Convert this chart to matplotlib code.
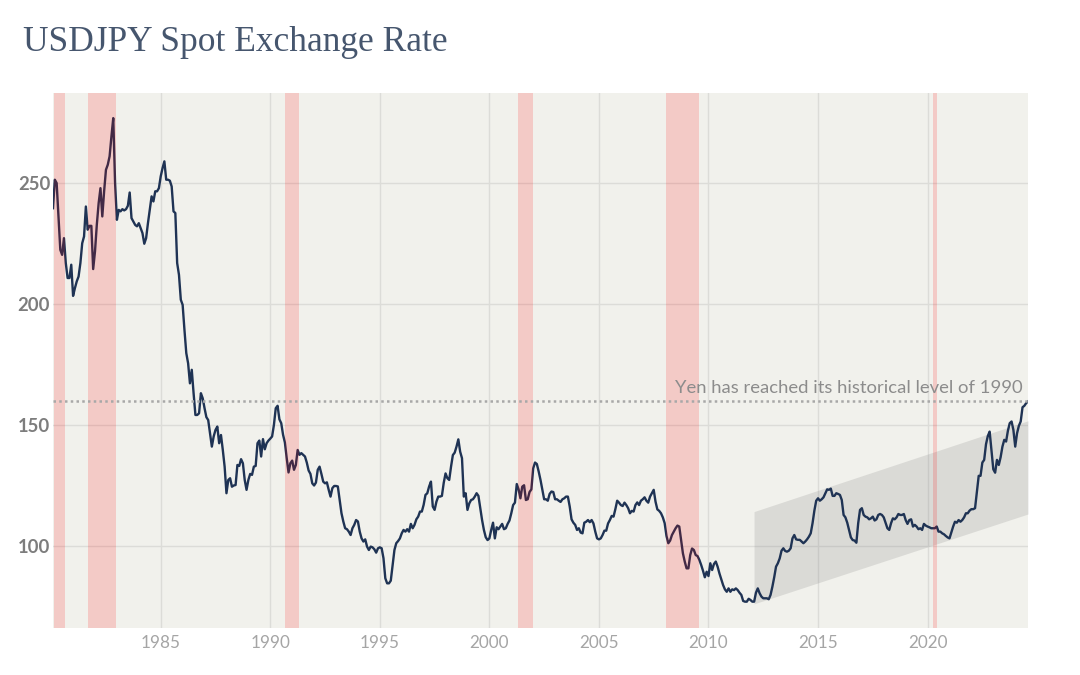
import numpy as np
import matplotlib
matplotlib.use('Agg')
from matplotlib import pyplot as plt
from matplotlib import transforms

# monthly USDJPY, Feb 1980 .. Jun 2024
rate_1980s = [
	239.7, 251.5, 250.1, 236.3, 222.5, 220.4, 227.3, 217.0, 210.8, 210.8, 216.3, 203.4,
	206.6, 209.4, 211.4, 217.0, 225.2, 228.0, 240.4, 230.8, 232.4, 232.4, 214.5, 221.8,
	232.9, 241.8, 248.0, 236.3, 246.7, 255.6, 257.7, 261.2, 269.4, 277.0, 250.1, 234.9,
	239.0, 238.4, 239.3, 238.8, 239.3, 240.7, 246.2, 235.6, 234.2, 232.8, 232.2, 233.5,
	231.5, 229.4, 225.0, 227.3, 233.5, 239.0, 244.6, 242.5, 246.7, 246.7, 248.0, 252.9,
	256.3, 259.1, 251.5, 251.5, 251.1, 248.7, 238.4, 237.7, 217.0, 212.1, 201.8, 199.7,
	189.3, 179.7, 175.5, 167.2, 172.8, 163.1, 154.1, 154.1, 154.8, 163.1, 161.0, 156.9,
	153.2, 152.0, 146.5, 141.0, 145.2, 147.9, 149.3, 142.4, 145.8, 139.6, 132.7, 121.7,
	127.2, 127.9, 124.4, 124.9, 125.1, 133.4, 133.0, 135.8, 134.1, 127.2, 123.1, 127.2,
	129.7, 129.3, 132.7, 133.0, 142.4, 143.5, 136.9, 144.1, 139.9, 142.4, 143.5, 144.3,
]
rate_1990s = [
	145.2, 150.0, 156.9, 157.9, 152.3, 150.7, 145.9, 142.7, 136.2, 130.3, 134.1, 135.2,
	131.4, 133.4, 139.6, 137.6, 138.3, 137.6, 136.9, 134.4, 131.1, 129.7, 125.8, 124.9,
	126.1, 131.4, 132.7, 129.7, 126.5, 125.8, 126.2, 123.1, 120.3, 123.8, 124.7, 124.7,
	124.5, 118.9, 113.4, 110.0, 107.2, 106.8, 105.8, 104.4, 107.2, 108.6, 110.6, 110.0,
	105.8, 103.0, 101.7, 102.6, 99.6, 98.2, 99.6, 99.3, 98.5, 97.1, 98.9, 99.3,
	98.9, 94.8, 86.5, 84.4, 84.4, 85.5, 92.0, 98.2, 101.0, 101.9, 103.0, 105.1,
	106.5, 105.8, 106.8, 105.8, 109.0, 107.2, 108.6, 110.9, 112.0, 114.1, 114.1, 116.9,
	121.0, 121.7, 124.5, 126.5, 116.2, 114.8, 118.2, 120.3, 120.3, 120.6, 126.0, 129.9,
	127.9, 127.2, 132.7, 137.5, 138.5, 141.0, 144.0, 138.9, 136.2, 120.3, 121.7, 114.8,
	117.5, 118.9, 119.2, 120.3, 121.7, 120.6, 115.5, 110.6, 106.5, 103.5, 102.3, 103.0,
]
rate_2000s = [
	106.5, 109.5, 103.0, 107.6, 106.8, 107.9, 109.0, 106.8, 107.2, 109.0, 110.4, 113.4,
	116.8, 117.8, 125.5, 123.3, 119.6, 124.4, 125.0, 118.9, 119.2, 122.2, 123.3, 132.0,
	134.4, 133.8, 130.7, 127.2, 123.1, 119.2, 119.2, 118.6, 121.4, 122.4, 122.2, 119.2,
	119.2, 118.6, 118.1, 119.2, 119.6, 120.3, 120.3, 116.2, 110.9, 109.5, 108.6, 106.5,
	107.2, 105.4, 105.1, 109.5, 109.9, 110.6, 109.7, 110.6, 109.2, 105.8, 103.0, 102.6,
	103.0, 104.4, 106.2, 106.2, 109.2, 110.6, 112.3, 112.0, 115.1, 118.6, 117.8, 116.8,
	116.4, 117.8, 116.8, 115.5, 113.4, 114.4, 114.1, 116.8, 117.9, 116.8, 118.6, 119.2,
	120.0, 118.6, 117.8, 120.3, 121.7, 123.1, 118.2, 115.0, 114.4, 113.4, 111.7, 109.3,
	104.0, 101.0, 102.1, 104.4, 105.8, 107.2, 108.3, 107.9, 102.3, 96.8, 93.4, 90.6,
	90.6, 96.1, 98.8, 98.2, 96.1, 95.7, 94.1, 92.0, 89.6, 86.9, 89.2, 87.4,
]
rate_2010s = [
	92.7, 89.9, 92.4, 93.4, 91.3, 88.5, 86.1, 83.7, 81.9, 80.9, 82.3, 80.9,
	81.9, 81.6, 82.3, 81.6, 80.5, 79.6, 77.1, 76.8, 76.8, 78.0, 77.5, 76.8,
	76.8, 80.5, 82.3, 80.3, 78.9, 78.2, 78.2, 78.2, 77.8, 79.6, 83.0, 86.9,
	91.3, 92.7, 94.7, 97.9, 98.9, 97.8, 97.5, 97.9, 98.9, 103.0, 104.4, 102.6,
	102.4, 102.4, 101.7, 101.0, 101.7, 102.6, 103.7, 105.1, 109.3, 114.5, 118.6, 119.6,
	118.6, 119.2, 120.0, 121.7, 123.3, 123.1, 123.6, 120.6, 120.6, 121.7, 121.4, 121.0,
	118.9, 112.7, 111.7, 109.5, 106.5, 103.4, 102.3, 102.1, 101.2, 109.3, 114.8, 115.5,
	112.7, 112.0, 111.7, 110.9, 111.3, 112.0, 110.4, 110.9, 112.7, 113.1, 112.7, 111.7,
	109.5, 107.2, 106.5, 109.3, 111.3, 110.9, 111.7, 113.1, 112.7, 112.7, 113.1, 110.6,
	109.0, 110.6, 110.9, 107.9, 108.6, 107.9, 106.8, 107.2, 106.5, 109.0, 108.3, 107.9,
]
rate_2020s = [
	107.6, 107.2, 107.2, 107.2, 107.9, 105.8, 105.8, 105.1, 104.7, 104.0, 103.4, 103.0,
	105.4, 107.9, 109.9, 109.5, 110.6, 109.9, 110.6, 111.7, 113.4, 113.4, 114.5, 115.1,
	115.1, 115.5, 122.4, 128.9, 128.9, 134.4, 135.5, 142.0, 145.4, 147.2, 139.6, 131.6,
	130.2, 135.5, 133.4, 136.6, 141.0, 143.8, 143.1, 147.6, 150.7, 151.4, 147.9, 141.0,
	146.5, 149.6, 151.4, 157.3, 157.9, 159.0, 159.7,
]
rate = rate_1980s + rate_1990s + rate_2000s + rate_2010s + rate_2020s
years = 1980 + (1 + np.arange(len(rate))) / 12

# recession periods (decimal years)
recession_start = [1980.11, 1981.66, 1990.66, 2001.32, 2008.06, 2020.24]
recession_end = [1980.64, 1982.96, 1991.31, 2001.99, 2009.56, 2020.41]

# trend channel 2012 -> 2024
channel_x = [2012.08, years[-1]]
channel_low = [75.9, 113.1]
channel_high = [114.1, 151.7]

level_1990 = 160
note = 'Yen has reached its historical level of 1990'
title = 'USDJPY Spot Exchange Rate'
x_ticks = [1985, 1990, 1995, 2000, 2005, 2010, 2015, 2020]
y_ticks = [100, 150, 200, 250]

fig = plt.figure(figsize=(10.8, 6.75), dpi=100)
ax = fig.add_axes([53/1080, 1 - 628/675, 975/1080, 535/675])
ax.set_facecolor('#f1f1ec')
for s in ax.spines.values():
	s.set_visible(False)

ax.set_xlim(years[0], years[-1])
ax.set_ylim(65.9, 287.4)
ax.grid(True, color='#dcdcd8', linewidth=1.0, zorder=0)
ax.set_axisbelow(True)

ax.fill_between(channel_x, channel_low, channel_high, color='#808080', alpha=0.2, linewidth=0, zorder=1)
ax.plot(years, rate, color='#1f3354', linewidth=1.7, zorder=2)
for a, b in zip(recession_start, recession_end):
	ax.axvspan(a, b, color='red', alpha=0.16, linewidth=0, zorder=3)

ax.axhline(level_1990, color='#a8a8a8', linewidth=1.8, linestyle=(0, (1, 1.3)), zorder=4)
tr = transforms.blended_transform_factory(ax.transAxes, ax.transData)
ax.text(1 - 5/975, 163.3, note, transform=tr, ha='right', va='baseline',
	fontsize=13.3, family='Lato', color='#8c8c8c', zorder=5)

ax.set_xticks(x_ticks)
ax.set_xticklabels([str(x) for x in x_ticks], family='Lato', fontsize=12.3, color='#a5a5a5')
ax.set_yticks(y_ticks)
ax.set_yticklabels([str(y) for y in y_ticks], family='Lato', fontsize=13.3, color='#7d7d7d', fontweight='bold')
ax.tick_params(axis='both', length=0)
ax.tick_params(axis='y', pad=2)
ax.tick_params(axis='x', pad=5)

fig.text(23/1080, 1 - 51/675, title, ha='left', va='baseline', fontsize=25.5,
	family='Liberation Serif', color='#46566e')

fig.savefig('out.png', dpi=100, facecolor='white')
